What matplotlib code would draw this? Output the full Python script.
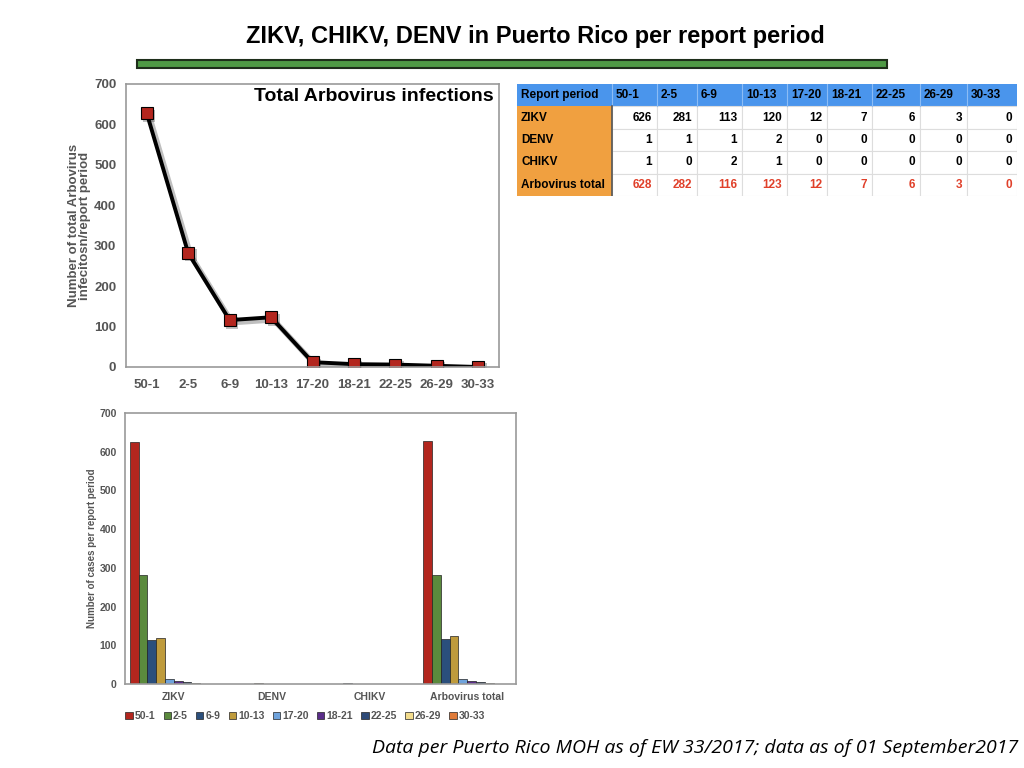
import matplotlib
matplotlib.use("Agg")
import matplotlib.pyplot as plt
import matplotlib.transforms as mtransforms
from matplotlib.patches import Rectangle
import numpy as np

periods = ["50-1", "2-5", "6-9", "10-13", "17-20", "18-21", "22-25", "26-29", "30-33"]
zikv = [626, 281, 113, 120, 12, 7, 6, 3, 0]
denv = [1, 1, 1, 2, 0, 0, 0, 0, 0]
chikv = [1, 0, 2, 1, 0, 0, 0, 0, 0]
arbo_total = [628, 282, 116, 123, 12, 7, 6, 3, 0]
groups = ["ZIKV", "DENV", "CHIKV", "Arbovirus total"]
period_colors = ["#b3261e", "#5b8a3d", "#2b4f7c", "#bf9b3c", "#6fa3dc",
                 "#5a2d8a", "#2d4a78", "#f3dc8c", "#e07b39"]

plt.rcParams['font.family'] = ['Liberation Sans', 'DejaVu Sans']
fig = plt.figure(figsize=(10.24, 7.68), dpi=100)
W, H = 1024, 768

def px_axes(l, t, r, b):
    return fig.add_axes([l / W, 1 - b / H, (r - l) / W, (b - t) / H])

grey = "#555555"

# Title
fig.text(535 / W, 1 - 37 / H, "ZIKV, CHIKV, DENV in Puerto Rico per report period",
         ha="center", va="center", fontsize=17, fontweight="bold", color="black")
fig.patches.append(Rectangle((137 / W, 1 - 68 / H), 750 / W, 8 / H,
                             transform=fig.transFigure, facecolor="#4f9a45",
                             edgecolor="#1e2e1a", linewidth=1.5))

# Top line chart
ax1 = px_axes(126, 84, 499, 367)
x = np.arange(len(periods))
shadow_tr = mtransforms.offset_copy(ax1.transData, fig=fig, x=2.5, y=-2.5, units="dots")
ax1.plot(x, arbo_total, color="#000000", alpha=0.25, linewidth=4, marker="s",
         markersize=9, markeredgewidth=0, transform=shadow_tr, zorder=1)
ax1.plot(x, arbo_total, color="black", linewidth=2.8, marker="s", markersize=8,
         markerfacecolor="#b3261e", markeredgecolor="black", markeredgewidth=0.8,
         zorder=2)
ax1.set_xlim(-0.5, 8.5)
ax1.set_ylim(0, 700)
ax1.set_yticks(range(0, 701, 100))
ax1.set_xticks(x)
ax1.set_xticklabels(periods)
ax1.tick_params(axis="x", length=0, labelsize=9.5, colors=grey, pad=9)
ax1.tick_params(axis="y", length=0, labelsize=9.5, colors=grey, pad=7)
for lab in ax1.get_xticklabels() + ax1.get_yticklabels():
    lab.set_fontweight("bold")
for s in ax1.spines.values():
    s.set_color("#999999")
    s.set_linewidth(1.2)
ax1.set_ylabel("Number of total Arbovirus\ninfecitosn/report period", fontsize=9.5,
               fontweight="bold", color=grey, labelpad=2, linespacing=0.95)
ax1.text(0.985, 0.955, "Total Arbovirus infections", transform=ax1.transAxes,
         ha="right", va="center", fontsize=14, fontweight="bold", color="black")

# Bottom bar chart
ax2 = px_axes(125, 413, 516, 684)
series = [zikv, denv, chikv, arbo_total]
gx = np.arange(len(groups))
bw = 0.09
for i, p in enumerate(periods):
    vals = [s[i] for s in series]
    ax2.bar(gx - 0.045 + (i - 4) * bw, vals, width=bw, color=period_colors[i],
            edgecolor="#222222", linewidth=0.5, label=p)
ax2.set_xlim(-0.5, 3.5)
ax2.set_ylim(0, 700)
ax2.set_yticks(range(0, 701, 100))
ax2.set_xticks(gx)
ax2.set_xticklabels(groups)
ax2.tick_params(length=0, labelsize=7.5, colors=grey, pad=6)
for lab in ax2.get_xticklabels() + ax2.get_yticklabels():
    lab.set_fontweight("bold")
for s in ax2.spines.values():
    s.set_color("#999999")
    s.set_linewidth(1.2)
ax2.set_ylabel("Number of cases per report period", fontsize=7, fontweight="bold",
               color=grey, labelpad=2)
ax2.legend(loc="upper left", bbox_to_anchor=(-0.01, -0.085), ncol=9, frameon=False,
           fontsize=7.5, handlelength=0.7, handleheight=0.7, handletextpad=0.2,
           columnspacing=0.8, labelcolor=grey, borderaxespad=0)
for t in ax2.get_legend().get_texts():
    t.set_fontweight("bold")

# Table
ax3 = px_axes(517, 84, 1017, 196)
ax3.set_axis_off()
ax3.set_xlim(0, 500)
ax3.set_ylim(112, 0)
col_edges = [0, 95, 140, 180, 225, 270, 310, 355, 403, 450, 500]
row_h = 22.4
rows = [("ZIKV", zikv), ("DENV", denv), ("CHIKV", chikv), ("Arbovirus total", arbo_total)]
blue = "#4a95ec"
orange = "#f0a040"
fs = 8.5
ax3.add_patch(Rectangle((0, 0), 500, row_h, facecolor=blue, edgecolor="none"))
ax3.text(col_edges[0] + 4, row_h / 2, "Report period", ha="left", va="center",
         fontsize=fs, fontweight="bold")
for j, p in enumerate(periods):
    ax3.text(col_edges[j + 1] + 4, row_h / 2, p, ha="left", va="center",
             fontsize=fs, fontweight="bold")
    ax3.plot([col_edges[j + 1]] * 2, [0, row_h], color="#8cbcf5", linewidth=0.8)
for r, (name, vals) in enumerate(rows):
    y0 = row_h * (r + 1)
    ax3.add_patch(Rectangle((0, y0), 95, row_h, facecolor=orange, edgecolor="none"))
    ax3.text(4, y0 + row_h / 2, name, ha="left", va="center", fontsize=fs,
             fontweight="bold")
    color = "#e0402a" if name == "Arbovirus total" else "black"
    for j, v in enumerate(vals):
        ax3.add_patch(Rectangle((col_edges[j + 1], y0), col_edges[j + 2] - col_edges[j + 1],
                                row_h, facecolor="white", edgecolor="#dddddd", linewidth=0.8))
        ax3.text(col_edges[j + 2] - 5, y0 + row_h / 2, str(v), ha="right", va="center",
                 fontsize=fs, fontweight="bold", color=color)
ax3.plot([95, 95], [row_h, 112], color="#555555", linewidth=1.2)

# Footer
fig.text(1018 / W, 1 - 748 / H,
         "Data per Puerto Rico MOH as of EW 33/2017; data as of 01 September2017",
         ha="right", va="center", fontsize=14, style="italic", color="black",
         family=['Open Sans', 'DejaVu Sans'])

fig.savefig("out.png", dpi=100)
